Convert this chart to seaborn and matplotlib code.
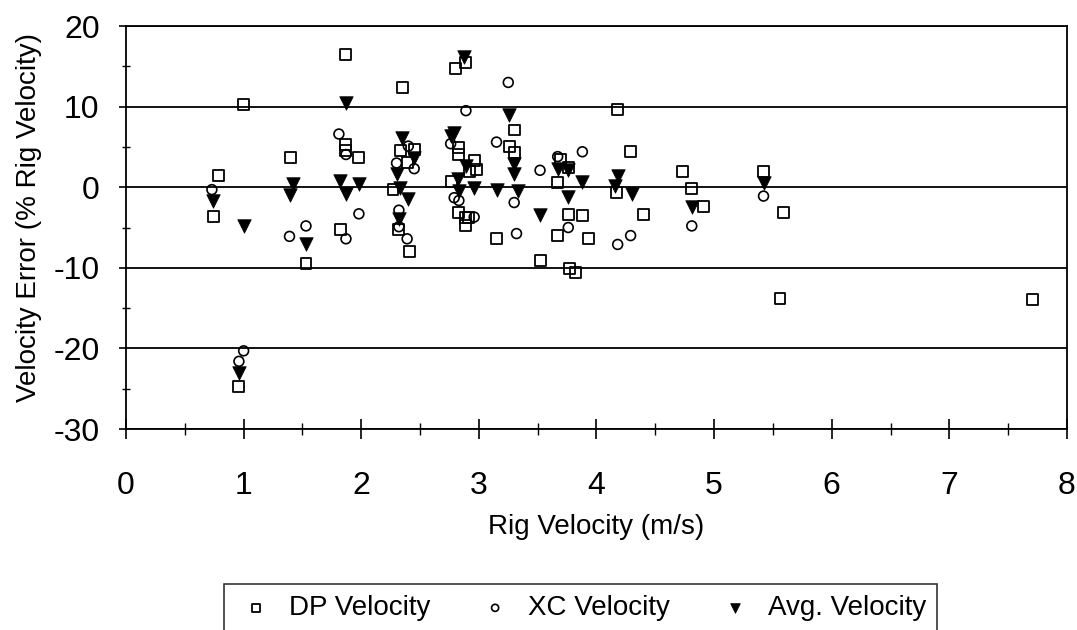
import matplotlib
matplotlib.use("Agg")
import matplotlib.pyplot as plt
import seaborn as sns
import pandas as pd
from matplotlib.ticker import MultipleLocator

# ---- data ----
dp_x = [0.74, 0.79, 1.00, 0.96, 1.40, 1.53, 1.82, 1.87, 1.87, 1.87, 1.98, 2.27, 2.32, 2.33, 2.35,
        2.39, 2.41, 2.45, 2.77, 2.80, 2.83, 2.83, 2.83, 2.89, 2.89, 2.91, 2.89, 2.92, 2.96, 2.98,
        3.15, 3.26, 3.30, 3.30, 3.52, 3.67, 3.67, 3.69, 3.76, 3.76, 3.77, 3.82, 3.88, 3.93, 4.17,
        4.18, 4.29, 4.40, 4.73, 4.81, 4.91, 5.42, 5.56, 5.59, 7.71]
dp_y = [-3.6, 1.45, 10.3, -24.7, 3.65, -9.5, -5.3, 16.5, 5.3, 4.5, 3.7, -0.3, -5.3, 4.55, 12.4,
        3.1, -7.95, 4.7, 0.75, 14.7, 4.9, 4.06, -3.1, 15.45, -3.7, -3.7, -4.75, 1.9, 3.3, 2.2,
        -6.4, 5.1, 7.1, 4.35, -9.1, 0.6, -6.0, 3.5, 2.4, -3.4, -10.1, -10.6, -3.5, -6.4, -0.7,
        9.65, 4.4, -3.4, 1.9, -0.2, -2.35, 2.0, -13.8, -3.1, -13.9]

xc_x = [0.73, 0.96, 1.00, 1.39, 1.53, 1.81, 1.87, 1.87, 1.98, 2.30, 2.32, 2.32, 2.39, 2.40, 2.45,
        2.76, 2.79, 2.83, 2.89, 2.96, 3.15, 3.25, 3.30, 3.32, 3.52, 3.67, 3.76, 3.88, 4.18, 4.29,
        4.81, 5.42]
xc_y = [-0.3, -21.6, -20.3, -6.1, -4.8, 6.6, 4.06, -6.4, -3.3, 3.0, -2.85, -4.9, -6.4, 5.1, 2.3,
        5.4, -1.3, -1.65, 9.5, -3.7, 5.6, 13.0, -1.9, -5.75, 2.1, 3.8, -5.0, 4.4, -7.1, -6.0,
        -4.8, -1.1]

avg_x = [0.74, 0.96, 1.00, 1.39, 1.42, 1.53, 1.82, 1.87, 1.87, 1.98, 2.30, 2.32, 2.33, 2.35, 2.40,
         2.45, 2.76, 2.79, 2.82, 2.83, 2.87, 2.89, 2.96, 3.15, 3.26, 3.30, 3.30, 3.33, 3.52, 3.67,
         3.76, 3.76, 3.88, 4.16, 4.18, 4.30, 4.81, 5.42]
avg_y = [-1.7, -23.1, -4.8, -1.0, 0.45, -7.0, 0.8, 10.4, -0.8, 0.4, 1.6, -4.0, -0.1, 6.1, -1.5,
         3.65, 6.3, 6.75, 1.0, -0.5, 16.1, 2.6, -0.1, -0.3, 9.0, 2.9, 1.65, -0.5, -3.4, 2.3,
         2.1, -1.25, 0.6, 0.1, 1.4, -0.8, -2.45, 0.55]

series_names = ["DP Velocity", "XC Velocity", "Avg. Velocity"]
x_label = "Rig Velocity (m/s)"
y_label = "Velocity Error (% Rig Velocity)"

# ---- style ----
sns.set_theme(style="white")
plt.rcParams["font.family"] = ["Liberation Sans", "DejaVu Sans"]
plt.rcParams["axes.unicode_minus"] = False
plt.rcParams["text.color"] = "black"
plt.rcParams["axes.labelcolor"] = "black"
plt.rcParams["xtick.color"] = "black"
plt.rcParams["ytick.color"] = "black"

fig = plt.figure(figsize=(10.77, 6.30), dpi=100)
ax = fig.add_axes([0.117, 0.319, 0.8737, 0.6397])

df_dp = pd.DataFrame({"x": dp_x, "y": dp_y})
df_xc = pd.DataFrame({"x": xc_x, "y": xc_y})
df_avg = pd.DataFrame({"x": avg_x, "y": avg_y})

sns.scatterplot(data=df_dp, x="x", y="y", ax=ax, marker="s", s=62,
                facecolor="none", edgecolor="black", linewidth=1.3,
                label=series_names[0], zorder=3)
sns.scatterplot(data=df_xc, x="x", y="y", ax=ax, marker="o", s=50,
                facecolor="none", edgecolor="black", linewidth=1.2,
                label=series_names[1], zorder=3)
sns.scatterplot(data=df_avg, x="x", y="y", ax=ax, marker="v", s=95,
                color="black", edgecolor="black", linewidth=0.5,
                label=series_names[2], zorder=4)

ax.set_xlim(0, 8)
ax.set_ylim(-30, 20)
ax.xaxis.set_major_locator(MultipleLocator(1))
ax.xaxis.set_minor_locator(MultipleLocator(0.5))
ax.yaxis.set_major_locator(MultipleLocator(10))
ax.yaxis.set_minor_locator(MultipleLocator(5))

ax.grid(axis="y", which="major", color="black", linewidth=1.3)
ax.set_axisbelow(True)
for sp in ax.spines.values():
    sp.set_color("black")
    sp.set_linewidth(1.3)
    sp.set_visible(True)

ax.tick_params(axis="x", which="major", direction="inout", length=14, width=1.2,
               color="black", labelcolor="black", labelsize=23, pad=23, bottom=True)
ax.tick_params(axis="x", which="minor", direction="inout", length=9, width=1.0,
               color="black", bottom=True)
ax.tick_params(axis="y", which="major", direction="out", length=5, width=1.2,
               color="black", labelcolor="black", labelsize=23, pad=14, left=True)
ax.tick_params(axis="y", which="minor", direction="inout", length=6, width=1.0,
               color="black", left=True)

ax.set_xlabel(x_label, fontsize=20, color="black")
ax.set_ylabel(y_label, fontsize=20, color="black")
ax.xaxis.set_label_coords(0.5, -0.21)
ax.yaxis.set_label_coords(-0.089, 0.524)

handles, labels = ax.get_legend_handles_labels()
ax.get_legend().remove()
leg = fig.legend(handles, labels, loc="upper left", bbox_to_anchor=(0.208, 0.073),
                 ncol=3, fontsize=20, frameon=True, fancybox=False, shadow=False,
                 markerscale=0.72, handlelength=1.5, handletextpad=0.45,
                 columnspacing=1.57, borderpad=0.4, borderaxespad=0.0)
leg.get_frame().set_edgecolor("black")
leg.get_frame().set_linewidth(1.2)
for t in leg.get_texts():
    t.set_color("black")

fig.savefig("out.png", dpi=100, facecolor="white")
